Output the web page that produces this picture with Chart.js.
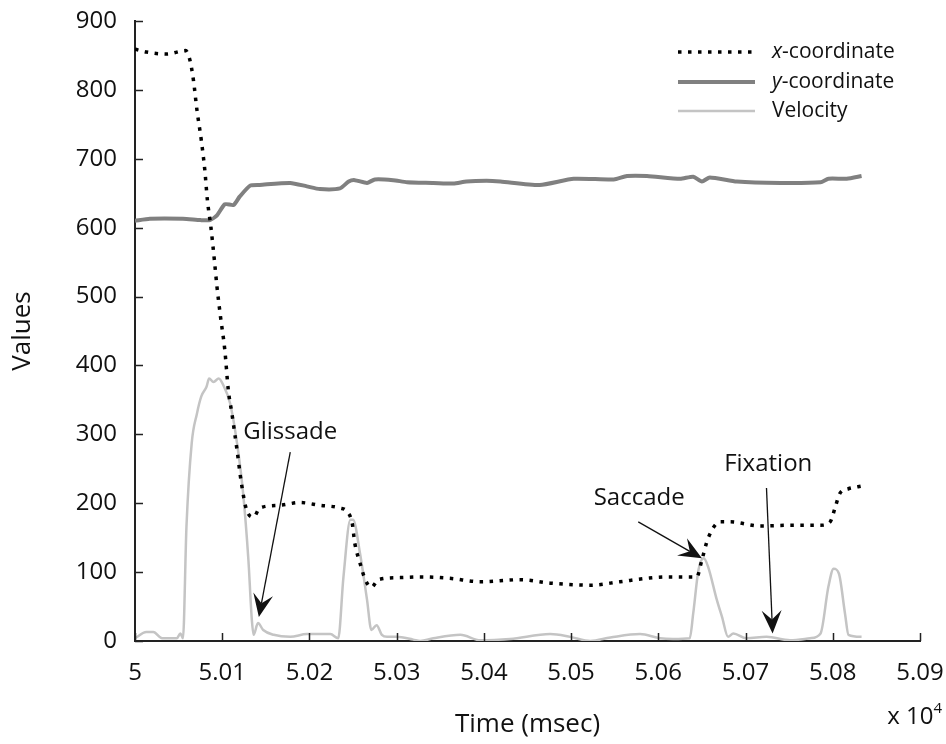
<!DOCTYPE html>
<html>
<head>
<meta charset="utf-8">
<script src="https://cdn.jsdelivr.net/npm/chart.js@4.4.1/dist/chart.umd.min.js"></script>
<style>
  html, body { margin: 0; padding: 0; background: #fff; }
</style>
</head>
<body>
<canvas id="eyeChart" width="946" height="744"></canvas>
<script>
// time in msec, axis shows it in units of 10^4
const xCoordTime = [50000, 50013, 50036, 50058, 50063, 50067, 50071, 50076, 50080, 50083, 50087, 50091, 50094, 50098, 50103, 50107, 50111, 50117, 50122, 50128, 50136, 50143, 50166, 50189, 50212, 50235, 50243, 50249, 50252, 50258, 50264, 50271, 50279, 50304, 50327, 50361, 50396, 50442, 50476, 50522, 50556, 50587, 50610, 50644, 50650, 50657, 50671, 50682, 50717, 50751, 50786, 50797, 50803, 50808, 50818, 50829, 50833];
const xCoordValue = [859, 855, 852, 857, 843, 814, 771, 727, 684, 640, 601, 553, 514, 471, 422, 364, 331, 277, 229, 190, 180, 193, 197, 201, 197, 193, 188, 171, 142, 113, 89, 78, 89, 92, 93, 91, 86, 89, 84, 81, 86, 91, 93, 93, 118, 149, 173, 173, 167, 168, 168, 173, 195, 214, 221, 224, 225];

const yCoordTime = [50000, 50017, 50055, 50075, 50086, 50094, 50103, 50113, 50120, 50132, 50143, 50178, 50197, 50212, 50235, 50245, 50252, 50266, 50275, 50296, 50312, 50342, 50365, 50380, 50403, 50419, 50464, 50503, 50549, 50564, 50587, 50625, 50640, 50650, 50659, 50690, 50740, 50786, 50795, 50816, 50833];
const yCoordValue = [610, 613, 613, 611, 611, 618, 634, 633, 645, 661, 662, 665, 660, 656, 657, 667, 669, 665, 670, 669, 666, 665, 664, 667, 668, 667, 662, 671, 670, 675, 675, 671, 674, 667, 673, 667, 665, 666, 671, 671, 675];

const velocityTime = [50000, 50013, 50021, 50031, 50048, 50052, 50055, 50059, 50065, 50071, 50076, 50082, 50085, 50090, 50096, 50101, 50109, 50117, 50124, 50130, 50134, 50136, 50141, 50147, 50159, 50178, 50197, 50224, 50233, 50239, 50247, 50250, 50258, 50266, 50271, 50277, 50283, 50289, 50300, 50319, 50327, 50342, 50373, 50396, 50430, 50476, 50499, 50522, 50545, 50579, 50602, 50617, 50636, 50640, 50646, 50652, 50657, 50667, 50673, 50680, 50686, 50701, 50724, 50751, 50774, 50786, 50795, 50801, 50807, 50814, 50818, 50833];
const velocityValue = [4, 13, 13, 4, 4, 11, 4, 166, 287, 330, 355, 369, 381, 376, 381, 372, 345, 287, 214, 118, 30, 9, 26, 16, 9, 6, 10, 10, 4, 93, 176, 176, 127, 60, 16, 23, 9, 6, 6, 2, 0, 4, 9, 1, 3, 10, 6, 0, 5, 10, 4, 3, 4, 40, 103, 120, 108, 60, 35, 6, 11, 4, 6, 1, 4, 11, 79, 105, 98, 40, 9, 6];

// annotations: label, text centre, arrow tail, arrow tip (data coords)
const noteLabels = ["Glissade", "Saccade", "Fixation"];
const noteText = [[50178, 303], [50578, 208], [50726, 257]];
const noteTail = [[50178, 274], [50577, 173], [50724, 222]];
const noteTip = [[50142, 35], [50650, 120], [50731, 11]];

const FONT = "'Open Sans', 'DejaVu Sans', sans-serif";
const TEXT = "#111";

const pairs = (xs, ys) => xs.map((t, i) => ({ x: t, y: ys[i] }));

const inwardTicks = {
  id: "inwardTicks",
  afterDatasetsDraw(chart) {
    const { ctx, chartArea, scales: { x, y } } = chart;
    ctx.save();
    ctx.strokeStyle = "#222";
    ctx.lineWidth = 1.5;
    ctx.beginPath();
    y.ticks.forEach((t) => {
      const py = Math.round(y.getPixelForValue(t.value)) + 0.5;
      ctx.moveTo(chartArea.left, py);
      ctx.lineTo(chartArea.left + 8, py);
    });
    x.ticks.forEach((t) => {
      const px = Math.round(x.getPixelForValue(t.value)) + 0.5;
      ctx.moveTo(px, chartArea.bottom);
      ctx.lineTo(px, chartArea.bottom - 8);
    });
    ctx.stroke();
    ctx.restore();
  },
};

function arrowHead(ctx, x0, y0, x1, y1) {
  const a = Math.atan2(y1 - y0, x1 - x0);
  const len = 23, half = 10, notch = 14;
  ctx.save();
  ctx.translate(x1, y1);
  ctx.rotate(a);
  ctx.beginPath();
  ctx.moveTo(0, 0);
  ctx.lineTo(-len, -half);
  ctx.lineTo(-notch, 0);
  ctx.lineTo(-len, half);
  ctx.closePath();
  ctx.fill();
  ctx.restore();
}

const notes = {
  id: "notes",
  afterDatasetsDraw(chart) {
    const { ctx, scales: { x, y } } = chart;
    ctx.save();
    ctx.fillStyle = TEXT;
    ctx.strokeStyle = "#111";
    ctx.lineWidth = 1.3;
    ctx.font = "24px " + FONT;
    ctx.textAlign = "center";
    ctx.textBaseline = "middle";
    noteLabels.forEach((label, i) => {
      ctx.fillText(label, x.getPixelForValue(noteText[i][0]), y.getPixelForValue(noteText[i][1]));
      const x0 = x.getPixelForValue(noteTail[i][0]), y0 = y.getPixelForValue(noteTail[i][1]);
      const x1 = x.getPixelForValue(noteTip[i][0]), y1 = y.getPixelForValue(noteTip[i][1]);
      const a = Math.atan2(y1 - y0, x1 - x0);
      ctx.beginPath();
      ctx.moveTo(x0, y0);
      ctx.lineTo(x1 - Math.cos(a) * 14, y1 - Math.sin(a) * 14);
      ctx.stroke();
      arrowHead(ctx, x0, y0, x1, y1);
    });

    // x 10^4 multiplier
    ctx.textAlign = "right";
    ctx.textBaseline = "alphabetic";
    ctx.font = "15px " + FONT;
    const sup = "4";
    const right = chart.width - 4;
    const base = chart.height - 20;
    ctx.fillText(sup, right, base - 11);
    const supW = ctx.measureText(sup).width;
    ctx.font = "24px " + FONT;
    ctx.fillText("x 10", right - supW, base);
    ctx.restore();
  },
};

const sideLegend = {
  id: "sideLegend",
  afterDraw(chart) {
    const { ctx, chartArea } = chart;
    const x0 = chartArea.right - 242;
    const x1 = x0 + 77;
    const tx = chartArea.right - 148;
    const rows = [31, 61, 90];
    ctx.save();
    chart.data.datasets.forEach((ds, i) => {
      const yy = chartArea.top + rows[i];
      ctx.strokeStyle = ds.borderColor;
      ctx.lineWidth = ds.borderWidth;
      ctx.setLineDash(ds.borderDash || []);
      ctx.beginPath();
      ctx.moveTo(x0, yy);
      ctx.lineTo(x1, yy);
      ctx.stroke();
      ctx.setLineDash([]);
      ctx.fillStyle = TEXT;
      ctx.textBaseline = "middle";
      ctx.textAlign = "left";
      let label = ds.label;
      let cx = tx;
      if (/^[xy]-/.test(label)) {
        ctx.font = "italic 21px " + FONT;
        ctx.fillText(label[0], cx, yy);
        cx += ctx.measureText(label[0]).width;
        label = label.slice(1);
      }
      ctx.font = "21px " + FONT;
      ctx.fillText(label, cx, yy);
    });
    ctx.restore();
  },
};

const ctx = document.getElementById("eyeChart");

new Chart(ctx, {
  type: "line",
  data: {
    datasets: [
      {
        label: "x-coordinate",
        data: pairs(xCoordTime, xCoordValue),
        borderColor: "#000",
        borderWidth: 3.5,
        borderDash: [3.5, 6.5],
        borderCapStyle: "butt",
        pointRadius: 0,
        cubicInterpolationMode: "monotone",
      },
      {
        label: "y-coordinate",
        data: pairs(yCoordTime, yCoordValue),
        borderColor: "#808080",
        borderWidth: 4,
        pointRadius: 0,
        tension: 0.2,
      },
      {
        label: "Velocity",
        data: pairs(velocityTime, velocityValue),
        borderColor: "#c4c4c4",
        borderWidth: 2.5,
        pointRadius: 0,
        cubicInterpolationMode: "monotone",
      },
    ],
  },
  options: {
    responsive: false,
    animation: false,
    layout: { padding: { top: 21, right: 26, left: 0, bottom: 0 } },
    plugins: {
      legend: { display: false },
      tooltip: { enabled: false },
    },
    scales: {
      x: {
        type: "linear",
        min: 50000,
        max: 50900,
        afterFit: (scale) => {
          scale.height = 103;
          scale.paddingLeft = 0;
          scale.paddingRight = 0;
        },
        grid: { display: false, drawTicks: false },
        border: { display: true, color: "#222", width: 2 },
        ticks: {
          stepSize: 100,
          padding: 18,
          color: TEXT,
          font: { family: FONT, size: 24 },
          maxRotation: 0,
          callback: (v) => String(parseFloat((v / 10000).toFixed(2))),
        },
        title: {
          display: true,
          text: "Time (msec)",
          color: TEXT,
          font: { family: FONT, size: 26 },
          padding: { top: 12 },
        },
      },
      y: {
        min: 0,
        max: 900,
        afterFit: (scale) => {
          scale.width = 135;
          scale.paddingTop = 0;
          scale.paddingBottom = 0;
        },
        grid: { display: false, drawTicks: false },
        border: { display: true, color: "#222", width: 2 },
        ticks: {
          stepSize: 100,
          padding: 18,
          color: TEXT,
          font: { family: FONT, size: 24 },
        },
        title: {
          display: true,
          text: "Values",
          color: TEXT,
          font: { family: FONT, size: 26 },
          padding: { top: 7 },
        },
      },
    },
  },
  plugins: [inwardTicks, notes, sideLegend],
});
</script>
</body>
</html>
